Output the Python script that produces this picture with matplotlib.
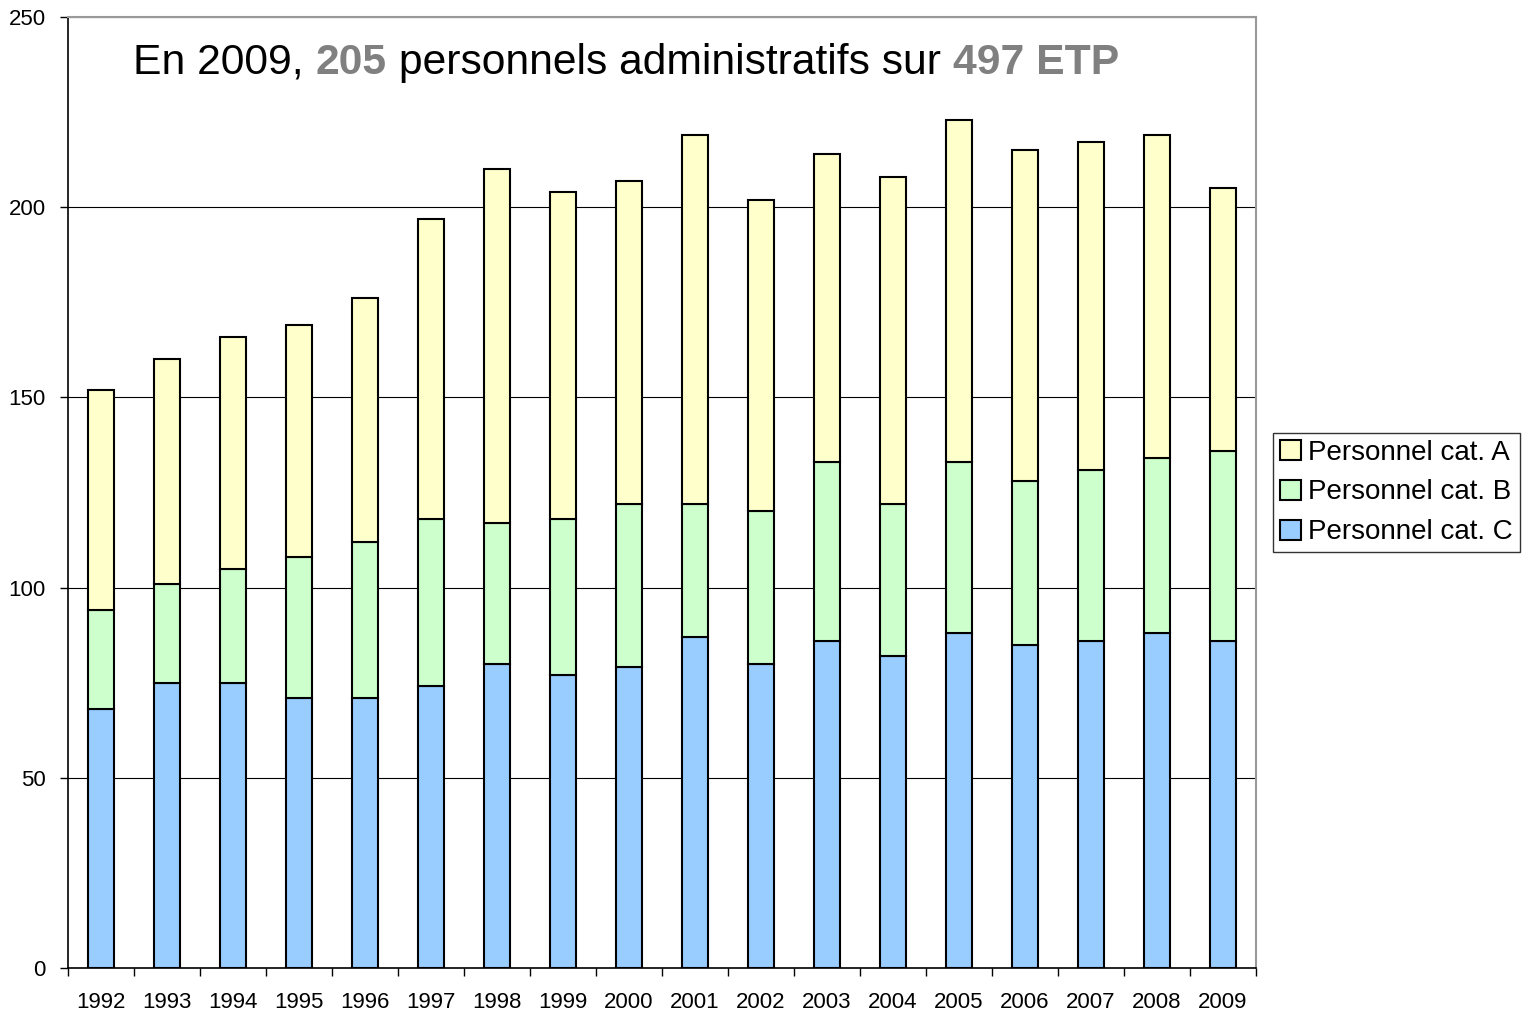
import matplotlib.pyplot as plt
import numpy as np

plt.rcParams['font.family'] = ['Liberation Sans', 'DejaVu Sans']

years = [str(y) for y in range(1992, 2010)]
cat_c = [68, 75, 75, 71, 71, 74, 80, 77, 79, 87, 80, 86, 82, 88, 85, 86, 88, 86]
cat_b = [26, 26, 30, 37, 41, 44, 37, 41, 43, 35, 40, 47, 40, 45, 43, 45, 46, 50]
cat_a = [58, 59, 61, 61, 64, 79, 93, 86, 85, 97, 82, 81, 86, 90, 87, 86, 85, 69]

colors = {"A": "#FFFFCC", "B": "#CCFFCC", "C": "#99CCFF"}

fig = plt.figure(figsize=(15.23, 10.15), dpi=100)
ax = fig.add_axes([0.0446, 0.0463, 0.7801, 0.937])

x = np.arange(len(years))
c = np.array(cat_c)
b = np.array(cat_b)
a = np.array(cat_a)
w = 0.4
kw = dict(width=w, edgecolor="black", linewidth=1.5, zorder=3)
bc = ax.bar(x, c, color=colors["C"], label="Personnel cat. C", **kw)
bb = ax.bar(x, b, bottom=c, color=colors["B"], label="Personnel cat. B", **kw)
ba = ax.bar(x, a, bottom=c + b, color=colors["A"], label="Personnel cat. A", **kw)

ax.set_xlim(-0.5, len(years) - 0.5)
ax.set_ylim(0, 250)
ax.set_yticks(range(0, 251, 50))
ax.tick_params(axis="y", labelsize=16, length=6, direction="out", width=1, pad=10)
ax.set_xticks(x)
ax.set_xticklabels(years, fontsize=16)
ax.tick_params(axis="x", length=0, pad=17)
ax.set_xticks(np.arange(-0.5, len(years), 1), minor=True)
ax.tick_params(axis="x", which="minor", length=6, width=1, direction="out")
ax.yaxis.grid(True, color="black", linewidth=0.8, zorder=0)
ax.set_axisbelow(True)

for s in ["left", "bottom"]:
    ax.spines[s].set_color("black")
    ax.spines[s].set_linewidth(1.2)
for s in ["top", "right"]:
    ax.spines[s].set_color("#999999")
    ax.spines[s].set_linewidth(1.5)

# title built from pieces so the numbers can be grey and bold
TY = 0.952
FS = 30.7
t = ax.text(0.055, TY, "En 2009, ", transform=ax.transAxes, fontsize=FS,
            va="center", ha="left")
fig.canvas.draw()
r = fig.canvas.get_renderer()


def append(prev, txt, **style):
    bbox = prev.get_window_extent(renderer=r)
    xa = ax.transAxes.inverted().transform((bbox.x1, bbox.y0))[0]
    return ax.text(xa, TY, txt, transform=ax.transAxes, fontsize=FS,
                   va="center", ha="left", **style)


t1 = append(t, "205", color="#808080", fontweight="bold")
t2 = append(t1, " personnels administratifs sur ")
t3 = append(t2, "497 ETP", color="#808080", fontweight="bold")

handles = [ba, bb, bc]
leg = fig.legend(handles, [h.get_label() for h in handles],
                 loc="center left", bbox_to_anchor=(0.836, 0.5148),
                 fontsize=20, frameon=True, fancybox=False,
                 edgecolor="black", handlelength=0.75, handleheight=0.75,
                 handletextpad=0.25, borderpad=0.25, labelspacing=0.5,
                 borderaxespad=0)
leg.get_frame().set_linewidth(1.0)

fig.savefig("out.png", dpi=100)
